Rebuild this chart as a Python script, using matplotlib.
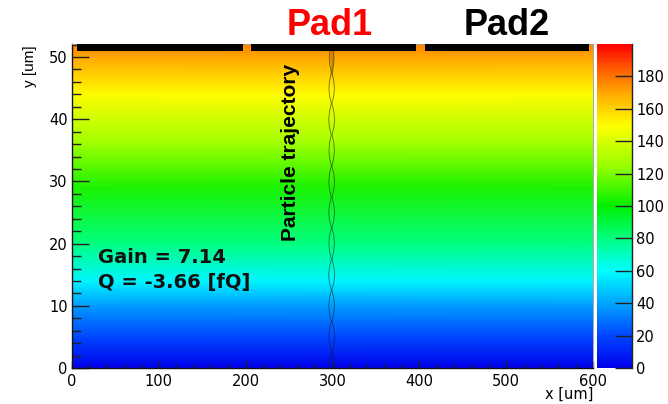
import numpy as np
import matplotlib
matplotlib.use("Agg")
import matplotlib.pyplot as plt
from matplotlib.colors import LinearSegmentedColormap, Normalize
from matplotlib.ticker import MultipleLocator

# Field map: value of the field along the drift gap (uniform in x)
field_y = [0, 5, 10, 14, 20, 29, 36, 44, 50, 52]
field_z = [0, 20, 38, 58, 80, 104, 126, 150, 170, 177]
x_range = [0, 600]
z_range = [0, 200]

# Readout pads on top of the gap
pad_start = [6, 206, 406]
pad_end = [197, 396, 595]
pad_names = ["Pad1", "Pad2"]

# Particle trajectory: centre line and half-width of the twisted track
traj_x = 299
traj_y = np.arange(0, 52.5, 1.25)
traj_halfwidth = [3.2, 2.4, 0.3, 2.5, 3.4, 2.6, 0.4, 2.4, 3.3, 2.5, 0.2, 2.6,
                  3.5, 2.5, 0.4, 2.3, 3.2, 2.6, 0.3, 2.5, 3.4, 2.4, 0.5, 2.6,
                  3.3, 2.5, 0.3, 2.4, 3.1, 2.5, 0.4, 2.6, 3.4, 2.5, 0.3, 2.4,
                  3.2, 2.3, 0.4, 2.2, 2.8, 2.0]
blob_y = [46.5, 48, 49.5, 51, 52]
blob_halfwidth = [0.0, 1.4, 2.0, 1.8, 1.5]

gain = 7.14
charge = -3.66

# ROOT-like rainbow palette
palette = LinearSegmentedColormap.from_list("rootpal", [
    (0.000, (0.00, 0.00, 0.92)),
    (0.100, (0.00, 0.28, 1.00)),
    (0.200, (0.00, 0.65, 1.00)),
    (0.300, (0.00, 1.00, 1.00)),
    (0.400, (0.00, 1.00, 0.50)),
    (0.500, (0.00, 0.94, 0.00)),
    (0.625, (0.60, 1.00, 0.00)),
    (0.750, (1.00, 1.00, 0.00)),
    (0.850, (1.00, 0.66, 0.00)),
    (0.925, (1.00, 0.36, 0.00)),
    (1.000, (1.00, 0.00, 0.00)),
])
norm = Normalize(vmin=z_range[0], vmax=z_range[1])

fig = plt.figure(figsize=(6.68, 4.04), dpi=100)
ax = fig.add_axes([0.1078, 0.0891, 0.780, 0.802])
cax = fig.add_axes([0.8937, 0.0891, 0.0524, 0.802])

X, Y = np.meshgrid(x_range, field_y)
Z = np.column_stack([field_z, field_z])
mesh = ax.pcolormesh(X, Y, Z, shading="gouraud", cmap=palette, norm=norm,
                     rasterized=True)

# pads
ax.broken_barh([(s, e - s) for s, e in zip(pad_start, pad_end)], (50.95, 1.2),
               facecolors="black", zorder=3)

# trajectory
hw = np.array(traj_halfwidth)
ax.fill_betweenx(blob_y, traj_x - np.array(blob_halfwidth),
                 traj_x + np.array(blob_halfwidth), color="#6b4400",
                 alpha=0.35, lw=0, zorder=2)
ax.plot(traj_x + hw, traj_y, color="#1a1a1a", lw=0.6, alpha=0.6, zorder=2)
ax.plot(traj_x - hw, traj_y, color="#1a1a1a", lw=0.6, alpha=0.6, zorder=2)

ax.set_xlim(0, 600)
ax.set_ylim(0, 52.1)

ax.xaxis.set_major_locator(MultipleLocator(100))
ax.xaxis.set_minor_locator(MultipleLocator(20))
ax.yaxis.set_major_locator(MultipleLocator(10))
ax.yaxis.set_minor_locator(MultipleLocator(2))
ax.tick_params(axis="y", which="major", direction="in", length=12, width=1,
               color="#222222", labelsize=10.5, pad=3)
ax.tick_params(axis="y", which="minor", direction="in", length=6.5, width=1,
               color="#222222")
ax.tick_params(axis="x", which="major", direction="in", length=5, width=1,
               color="#222222", labelsize=10.5, pad=4)
ax.tick_params(axis="x", which="minor", direction="in", length=3, width=1,
               color="#222222")
for side in ["left", "bottom"]:
    ax.spines[side].set_color("#111111")
    ax.spines[side].set_linewidth(1.0)
for side in ["top", "right"]:
    ax.spines[side].set_color("#999999")
    ax.spines[side].set_linewidth(0.6)

# colour scale
cb = fig.colorbar(mesh, cax=cax)
cb.set_ticks(np.arange(0, 181, 20))
cb.outline.set_visible(False)
cax.plot([1, 1], [0, 1], transform=cax.transAxes, color="#222222", lw=1.0,
         clip_on=False)
cax.tick_params(axis="y", which="both", direction="in", length=12, width=1,
                color="#222222", labelsize=10.5, pad=3, right=True, left=False)
cax.minorticks_off()

# axis titles
fig.text(593 / 668, 1 - 387 / 404, "x [um]", ha="right", va="top",
         fontsize=10.5)
fig.text(0.0449, 0.8886, "y [um]", ha="center", va="top", rotation=90,
         fontsize=11, family="Liberation Sans")

# annotations
fig.text(330 / 668, 0.9134, pad_names[0], ha="center", va="baseline",
         color="#ff0000", fontsize=26, fontweight="bold",
         family="Liberation Sans")
fig.text(507 / 668, 0.9134, pad_names[1], ha="center", va="baseline",
         color="black", fontsize=26, fontweight="bold",
         family="Liberation Sans")
ax.text(252, 34.7, "Particle trajectory", rotation=90, ha="center",
        va="center", fontsize=15, fontweight="bold", family="Liberation Sans")
ax.text(30, 16.9, f"Gain = {gain:.2f}", ha="left", va="baseline",
        fontsize=14, fontweight="bold", color="#111111")
ax.text(30, 12.9, f"Q = {charge:.2f} [fQ]", ha="left", va="baseline",
        fontsize=14, fontweight="bold", color="#111111")

fig.savefig("out.png", dpi=100)
